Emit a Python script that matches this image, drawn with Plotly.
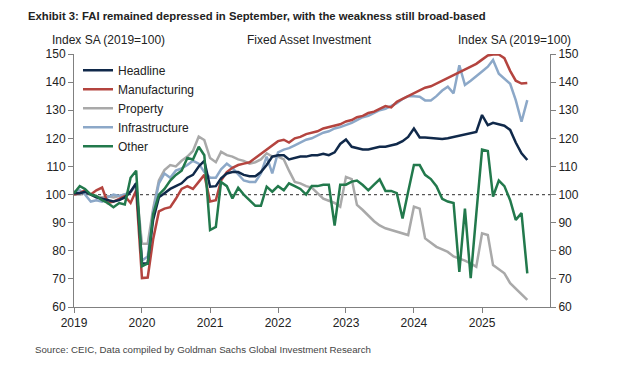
import pandas as pd
import plotly.graph_objects as go

months = pd.date_range("2019-01-01", periods=81, freq="MS")

headline = [100.5, 100.5, 101, 100, 99, 98.5, 98, 97.5, 98, 99, 101, 104,
            75.5, 75.5, 91, 99, 100.5, 102, 103, 104, 106, 107, 110, 112,
            102.8, 103, 105.8, 107.5, 108, 108, 107, 106.5, 106.5, 108, 110.5, 113.5,
            114, 114, 112.5, 113, 113.5, 113.5, 114, 114, 114.5, 114, 115, 118,
            119.6, 117, 116.5, 116, 116, 116.5, 117, 117, 117.5, 118, 119, 120.5,
            123.5, 120.3, 120.3, 120.2, 120, 119.8, 120, 120.5, 121, 121.5, 122, 122.3,
            128.3, 124.7, 125.5, 125, 124.5, 123, 118.5, 114.7, 112.3]

manufacturing = [100, 100.5, 101.5, 100, 101.5, 102.5, 97, 97.5, 98.5, 99.5, 97, 101.5,
                 70.3, 70.5, 84, 94, 95, 95.5, 98.5, 102, 103, 102, 104.5, 107,
                 97.5, 98, 105, 108, 109.5, 110.5, 111, 111.5, 113, 114.5, 116, 117.5,
                 119, 119.5, 118.5, 120, 120.5, 121.5, 122, 122.5, 123.5, 124, 124.5, 125,
                 126, 126.5, 127.5, 128, 129, 129.5, 130.5, 131.5, 131, 133, 134, 135,
                 136, 137, 138, 138.5, 139.5, 140.5, 141.5, 142.5, 143.5, 144.5, 145.5, 146.5,
                 148, 149.5, 149.8, 149.8, 148.5, 144, 140.5, 139.5, 139.7]

property_ = [100, 100, 101, 100, 99, 99, 99.5, 99, 99.5, 100, 101, 103,
             82.5, 82.5, 95, 105, 108.7, 110.5, 110, 112, 113.5, 115.5, 120.6, 119.4,
             113, 111.5, 115.2, 114, 113.5, 112.5, 112, 111, 111.5, 112.5, 114.7, 113.5,
             113.5, 112.5, 108.5, 104.5, 104, 103, 102.5, 100.5, 98.5, 97.8, 97, 95.7,
             106.3, 105.5, 96.3, 94.5, 92.5, 90.5, 89, 88, 87.4, 86.8, 86.2, 85.6,
             95.7, 95, 84.4, 83, 81.4, 80.5, 79.6, 78, 77.3, 76.5, 75.5, 74.3,
             86.2, 85.6, 74.9, 73.5, 72, 68.5, 66.5, 64.5, 62.5]

infrastructure = [101, 101.5, 100, 97.5, 98, 97.5, 99, 100, 99.5, 100, 101, 104,
                  76.5, 78, 94, 104, 107.5, 106, 108.5, 109.3, 110.5, 112, 111, 108,
                  106, 106, 109, 111, 109.5, 107, 105, 104.5, 104.5, 107.5, 113.5, 107.5,
                  115, 116, 116.5, 117.5, 118.5, 119.5, 120, 121, 122, 122.5, 123.5, 124,
                  124.7, 125.5, 126.5, 127.5, 128, 129, 130, 130.5, 131.5, 132.5, 134, 135,
                  135, 134.8, 133.5, 133.5, 135, 137, 138.4, 136, 146, 139, 140.5, 142,
                  143.8, 145.5, 147.9, 143, 141.3, 139.4, 133.6, 125.9, 133.6]

other = [100.5, 103, 102, 100, 99.5, 98, 97, 95.5, 97, 96.5, 106, 108.5,
         74.5, 75.5, 93, 100, 102, 105, 107, 108.5, 113, 112.5, 117, 114,
         87.4, 88.5, 104.5, 103, 98.6, 102.4, 100, 98, 96, 96, 102.8, 101,
         103, 101.5, 104, 103, 102, 100, 103, 103, 103.5, 103.5, 89, 103.5,
         103.5, 104.6, 105, 103.4, 101.5, 103.5, 105.4, 101.3, 101.3, 100.5, 91.5, 101,
         110.5, 110.5, 107, 105.5, 103, 98.5, 97.5, 97, 72.5, 95, 70.3, 93,
         116, 115.5, 99.3, 105, 103, 98, 91, 93.4, 72]

year_ticks = ["2019", "2020", "2021", "2022", "2023", "2024", "2025"]
y_ticks = [60, 70, 80, 90, 100, 110, 120, 130, 140, 150]

series = [
    ("Property", property_, "#a9a9a9", 3),
    ("Infrastructure", infrastructure, "#8ca8c8", 4),
    ("Manufacturing", manufacturing, "#b4443f", 2),
    ("Headline", headline, "#10294a", 1),
    ("Other", other, "#22794c", 5),
]

fig = go.Figure()
for name, vals, col, rank in series:
    fig.add_trace(go.Scatter(x=months, y=vals, name=name, mode="lines",
                             line=dict(color=col, width=2.5), legendrank=rank))
fig.add_trace(go.Scatter(x=[months[0]], y=[None], yaxis="y2", showlegend=False,
                         hoverinfo="skip", mode="lines"))

font = "Liberation Sans, Arial, sans-serif"
axis_col = "#808080"
fig.update_layout(
    width=620, height=374,
    margin=dict(l=74, r=70, t=54, b=67),
    paper_bgcolor="white", plot_bgcolor="white",
    font=dict(family=font, size=12, color="#333333"),
    showlegend=True,
    legend=dict(x=0.0084, y=0.993, xanchor="left", yanchor="top",
                bgcolor="rgba(0,0,0,0)", font=dict(size=12, color="#222222")),
    xaxis=dict(range=["2019-01-01", "2026-01-01"], showgrid=False, zeroline=False,
               showline=True, linecolor=axis_col, linewidth=1,
               ticks="outside", ticklen=5, tickcolor=axis_col,
               tickvals=[f"{y}-01-01" for y in year_ticks], ticktext=year_ticks,
               tickfont=dict(size=12, color="#222222")),
    yaxis=dict(range=[60, 150], showgrid=False, zeroline=False,
               showline=True, linecolor=axis_col, linewidth=1,
               ticks="outside", ticklen=5, tickcolor=axis_col,
               tickvals=y_ticks, tickfont=dict(size=12, color="#222222")),
    yaxis2=dict(range=[60, 150], overlaying="y", side="right", anchor="x",
                showgrid=False, zeroline=False,
                showline=True, linecolor=axis_col, linewidth=1,
                ticks="outside", ticklen=5, tickcolor=axis_col,
                tickvals=y_ticks, tickfont=dict(size=12, color="#222222")),
)

fig.add_shape(type="line", xref="paper", x0=0, x1=1, yref="y", y0=100, y1=100,
              line=dict(color="#555555", width=1.2, dash="dot"), layer="below")

W, H, L, B = 476, 253, 74, 307
def px(x):
    return (x - L) / W
def py(y):
    return (B - y) / H

fig.add_annotation(text="<b>Exhibit 3: FAI remained depressed in September, with the weakness still broad-based</b>",
                   xref="paper", yref="paper", x=px(26), y=py(16.5), xanchor="left", yanchor="middle",
                   showarrow=False, font=dict(family=font, size=11.3, color="#222222"))
fig.add_annotation(text="Index SA (2019=100)", xref="paper", yref="paper", x=px(108), y=py(40),
                   xanchor="center", yanchor="middle", showarrow=False,
                   font=dict(family=font, size=12, color="#222222"))
fig.add_annotation(text="Fixed Asset Investment", xref="paper", yref="paper", x=px(309), y=py(40),
                   xanchor="center", yanchor="middle", showarrow=False,
                   font=dict(family=font, size=12, color="#222222"))
fig.add_annotation(text="Index SA (2019=100)", xref="paper", yref="paper", x=px(514), y=py(40),
                   xanchor="center", yanchor="middle", showarrow=False,
                   font=dict(family=font, size=12, color="#222222"))
fig.add_annotation(text="Source: CEIC, Data compiled by Goldman Sachs Global Investment Research",
                   xref="paper", yref="paper", x=px(33), y=py(349), xanchor="left", yanchor="middle",
                   showarrow=False, font=dict(family=font, size=9.7, color="#444444"))

fig.write_html("out.html", config={"displayModeBar": False},
               post_script="document.body.style.margin='0';")
